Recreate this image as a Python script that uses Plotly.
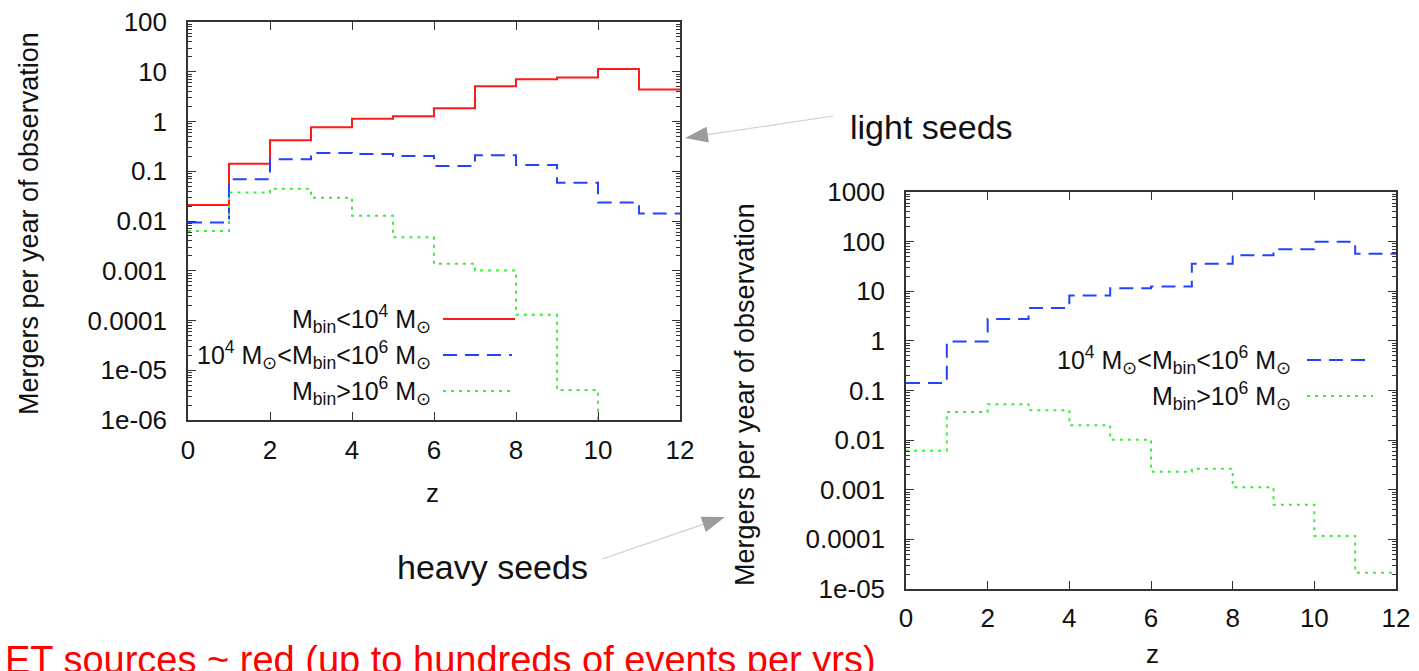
import math
import plotly.graph_objects as go

W, H = 1419, 671
FONT = "Liberation Sans, Arial, sans-serif"

# Redshift bin edges (bins of width 1)
z_edges = [0, 1, 2, 3, 4, 5, 6, 7, 8, 9, 10, 11, 12]

# Light seeds: mergers per year of observation in each redshift bin
light_low = [0.021, 0.142, 0.42, 0.77, 1.13, 1.28, 1.85, 5.1, 7.1, 7.7, 11.3, 4.4]
light_mid = [0.0093, 0.069, 0.174, 0.233, 0.222, 0.203, 0.128, 0.209, 0.134, 0.059, 0.0236, 0.0142]
light_high = [0.0063, 0.0374, 0.0443, 0.0293, 0.0128, 0.0047, 0.00138, 0.00101, 0.00013, 4.0e-6, 2e-7, 1e-7]

# Heavy seeds
heavy_mid = [0.142, 0.97, 2.75, 4.6, 8.2, 11.5, 12.5, 36, 53, 70, 100, 57]
heavy_high = [0.0061, 0.037, 0.053, 0.040, 0.020, 0.0102, 0.0023, 0.00264, 0.00112, 0.000497, 0.000117, 2.13e-5]

left_ticks = [1e-6, 1e-5, 1e-4, 1e-3, 1e-2, 0.1, 1, 10, 100]
left_ticktext = ["1e-06", "1e-05", "0.0001", "0.001", "0.01", "0.1", "1", "10", "100"]
right_ticks = [1e-5, 1e-4, 1e-3, 1e-2, 0.1, 1, 10, 100, 1000]
right_ticktext = ["1e-05", "0.0001", "0.001", "0.01", "0.1", "1", "10", "100", "1000"]
z_ticks = [0, 2, 4, 6, 8, 10, 12]

RED, BLUE, GREEN = "#ff1a1a", "#2443ff", "#3cec3c"
DASH_BLUE = "14px,8px"
DASH_GREEN = "3px,5px"

LBL_LOW = "M<sub>bin</sub>&lt;10<sup>4</sup> M<sub>⊙</sub>"
LBL_MID = "10<sup>4</sup> M<sub>⊙</sub>&lt;M<sub>bin</sub>&lt;10<sup>6</sup> M<sub>⊙</sub>"
LBL_HIGH = "M<sub>bin</sub>&gt;10<sup>6</sup> M<sub>⊙</sub>"


def px(x):
    return x / W


def py(y):
    return 1 - y / H


def steps(vals):
    return vals + [vals[-1]]


fig = go.Figure()

series = [
    ("x", "y", light_low, RED, "solid"),
    ("x", "y", light_mid, BLUE, DASH_BLUE),
    ("x", "y", light_high, GREEN, DASH_GREEN),
    ("x2", "y2", heavy_mid, BLUE, DASH_BLUE),
    ("x2", "y2", heavy_high, GREEN, DASH_GREEN),
]
for xa, ya, vals, col, dash in series:
    fig.add_trace(go.Scatter(
        x=z_edges, y=steps(vals), xaxis=xa, yaxis=ya, mode="lines",
        line=dict(shape="hv", color=col, width=2, dash=dash),
        showlegend=False, hoverinfo="skip"))

axis_common = dict(
    showline=True, linecolor="#333333", linewidth=1.5, mirror="allticks",
    ticks="inside", ticklen=8, tickwidth=1.3, tickcolor="#333333",
    showgrid=False, zeroline=False, automargin=False,
    tickfont=dict(family=FONT, size=26, color="#111111"),
)

fig.update_layout(
    width=W, height=H, margin=dict(l=0, r=0, t=0, b=0, autoexpand=False),
    paper_bgcolor="white", plot_bgcolor="white",
    xaxis=dict(domain=[px(188), px(680)], range=[0, 12], tickvals=z_ticks,
               anchor="y", ticklabelstandoff=6, **axis_common),
    yaxis=dict(domain=[py(420), py(22)], type="log", range=[-6, 2],
               tickvals=left_ticks, ticktext=left_ticktext, anchor="x",
               ticklabelstandoff=14,
               minor=dict(ticks="inside", ticklen=4, tickcolor="#333333", dtick="D1"),
               **axis_common),
    xaxis2=dict(domain=[px(906), px(1396)], range=[0, 12], tickvals=z_ticks,
                anchor="y2", ticklabelstandoff=5, **axis_common),
    yaxis2=dict(domain=[py(589), py(192)], type="log", range=[-5, 3],
                tickvals=right_ticks, ticktext=right_ticktext, anchor="x2",
                ticklabelstandoff=14,
                minor=dict(ticks="inside", ticklen=4, tickcolor="#333333", dtick="D1"),
                **axis_common),
)

annotations = []
shapes = []


def text(x, y, s, size, xanchor="center", yanchor="middle", angle=0, color="#111111"):
    annotations.append(dict(
        x=px(x), y=py(y), xref="paper", yref="paper", text=s, showarrow=False,
        xanchor=xanchor, yanchor=yanchor, textangle=angle,
        font=dict(family=FONT, size=size, color=color)))


# Axis titles
text(29, 224, "Mergers per year of observation", 27, angle=-90)
text(745, 395, "Mergers per year of observation", 27, angle=-90)
text(433, 493, "z", 26)
text(1152, 654, "z", 26)


# Key entries: label on the left, line sample on the right
def key(x_text, x0, x1, y, label, col, dash):
    text(x_text, y, label, 25, xanchor="right")
    shapes.append(dict(type="line", xref="paper", yref="paper",
                       x0=px(x0), x1=px(x1), y0=py(y), y1=py(y),
                       line=dict(color=col, width=2, dash=dash)))


key(433, 443, 515, 319, LBL_LOW, RED, "solid")
key(433, 443, 512, 355, LBL_MID, BLUE, DASH_BLUE)
key(433, 443, 515, 391, LBL_HIGH, GREEN, DASH_GREEN)
key(1293, 1307, 1373, 360, LBL_MID, BLUE, DASH_BLUE)
key(1293, 1307, 1373, 396, LBL_HIGH, GREEN, DASH_GREEN)


# Pointer arrows: thin grey shaft plus a filled triangular head
def pointer(tail, tip, head_len=23, head_w=16):
    tx, ty = tail
    hx, hy = tip
    d = math.hypot(hx - tx, hy - ty)
    ux, uy = (hx - tx) / d, (hy - ty) / d
    bx, by = hx - ux * head_len, hy - uy * head_len
    nx, ny = -uy, ux
    shapes.append(dict(type="line", xref="paper", yref="paper",
                       x0=px(tx), y0=py(ty), x1=px(bx), y1=py(by),
                       line=dict(color="#cfcfcf", width=1.2)))
    p1 = (bx + nx * head_w / 2, by + ny * head_w / 2)
    p2 = (bx - nx * head_w / 2, by - ny * head_w / 2)
    path = "M {} {} L {} {} L {} {} Z".format(
        px(hx), py(hy), px(p1[0]), py(p1[1]), px(p2[0]), py(p2[1]))
    shapes.append(dict(type="path", xref="paper", yref="paper", path=path,
                       fillcolor="#9c9c9c", line=dict(width=0)))


pointer((833, 116), (685, 138))
pointer((602, 559), (725, 517))

text(848, 127, "light seeds", 34, xanchor="left")
text(395, 567, "heavy seeds", 34, xanchor="left")
text(3, 660, "ET sources ~ red (up to hundreds of events per yrs)", 38,
     xanchor="left", color="#ff0000")

fig.update_layout(annotations=annotations, shapes=shapes)

fig.write_html("out.html")
